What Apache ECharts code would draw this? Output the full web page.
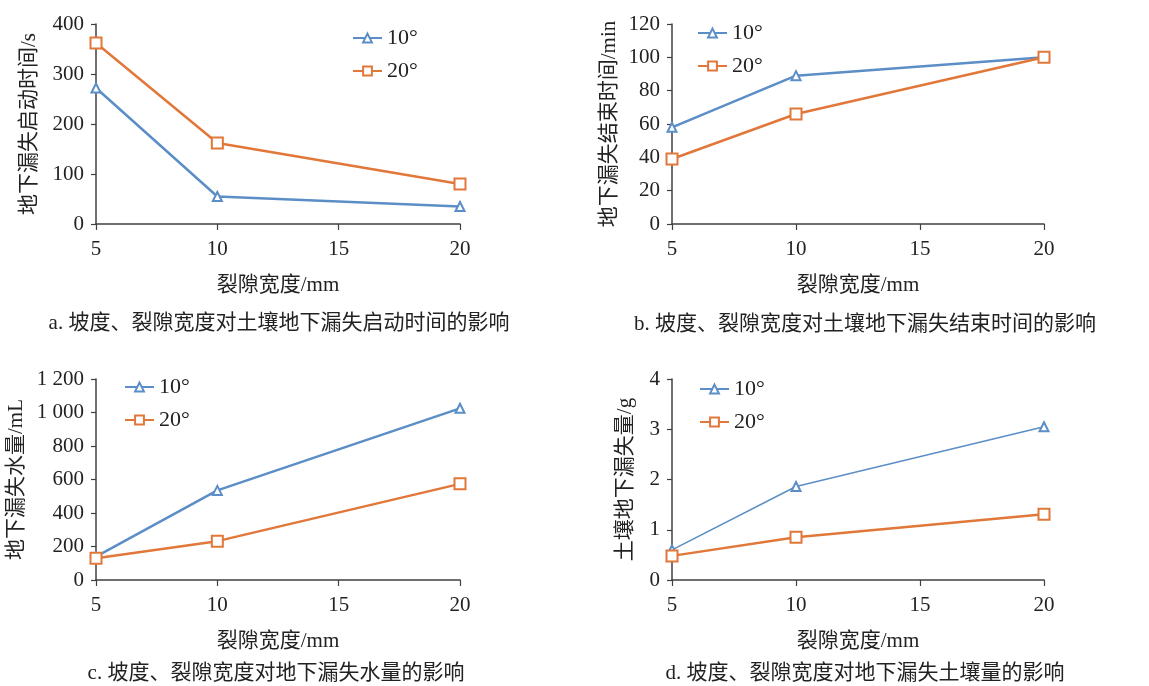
<!DOCTYPE html>
<html><head><meta charset="utf-8">
<script src="https://cdn.jsdelivr.net/npm/echarts@6/dist/echarts.min.js"></script>
<style>html,body{margin:0;padding:0;background:#fff}#c{width:1149px;height:686px}</style>
</head><body><div id="c"></div>
<script>
const widths = [5, 10, 20];
const xTicks = [5, 10, 15, 20];
// a: start time (s)
const startTime10 = [272, 55, 35];
const startTime20 = [362, 162, 80];
// b: end time (min)
const endTime10 = [58, 89, 100];
const endTime20 = [39, 66, 100];
// c: water loss (mL)
const water10 = [140, 535, 1025];
const water20 = [130, 232, 574];
// d: soil loss (g)
const soil10 = [0.6, 1.86, 3.05];
const soil20 = [0.48, 0.85, 1.31];

const legendNames = ['10°', '20°'];
const yNames = ['地下漏失启动时间/s', '地下漏失结束时间/min', '地下漏失水量/mL', '土壤地下漏失量/g'];
const xName = '裂隙宽度/mm';
const captions = [
  'a. 坡度、裂隙宽度对土壤地下漏失启动时间的影响',
  'b. 坡度、裂隙宽度对土壤地下漏失结束时间的影响',
  'c. 坡度、裂隙宽度对地下漏失水量的影响',
  'd. 坡度、裂隙宽度对地下漏失土壤量的影响'
];

const BLUE = '#5b8ec6', ORANGE = '#e2773a', AX = '#404040', TXT = '#222';
const FONT = '"Liberation Serif", "Noto Sans CJK SC", serif';

const grids = [
  {left: 96, top: 24, width: 364, height: 200},
  {left: 672, top: 24, width: 372, height: 200},
  {left: 96, top: 379, width: 364, height: 201},
  {left: 672, top: 379, width: 372, height: 201}
];
const yCfg = [
  {max: 400, interval: 100, gap: 56},
  {max: 120, interval: 20, gap: 52},
  {max: 1200, interval: 200, gap: 69},
  {max: 4, interval: 1, gap: 36}
];
const legendPos = [
  {left: 352, top: 27},
  {left: 697, top: 22},
  {left: 124, top: 376},
  {left: 699, top: 378}
];
const data10 = [startTime10, endTime10, water10, soil10];
const data20 = [startTime20, endTime20, water20, soil20];
const lw10 = [2.5, 2.5, 2.5, 1.5];
const capPos = [[279, 323], [865, 324], [276, 673], [865, 673]];

function pairs(arr) { return widths.map((w, i) => [w, arr[i]]); }
function fmtThousands(v) { return v >= 1000 ? String(v).replace(/(\d)(\d{3})$/, '$1 $2') : String(v); }

const option = {
  animation: false,
  backgroundColor: '#fff',
  grid: grids,
  xAxis: grids.map((g, i) => ({
    type: 'value', gridIndex: i, min: 5, max: 20, interval: 5,
    name: xName, nameLocation: 'middle', nameGap: 51,
    nameTextStyle: {fontFamily: FONT, fontSize: 21, color: TXT},
    axisLine: {show: true, lineStyle: {color: AX, width: 1.5}},
    axisTick: {show: true, length: 6, lineStyle: {color: AX, width: 1.2}},
    axisLabel: {fontFamily: FONT, fontSize: 21, color: TXT, margin: 15,
      formatter: v => xTicks.includes(v) ? String(v) : ''},
    splitLine: {show: false}
  })),
  yAxis: grids.map((g, i) => ({
    type: 'value', gridIndex: i, min: 0, max: yCfg[i].max, interval: yCfg[i].interval,
    name: yNames[i], nameLocation: 'middle', nameGap: yCfg[i].gap, nameRotate: 90,
    nameTextStyle: {fontFamily: FONT, fontSize: 21, color: TXT},
    axisLine: {show: true, lineStyle: {color: AX, width: 1.5}},
    axisTick: {show: true, length: 5, lineStyle: {color: AX, width: 1.2}},
    axisLabel: {fontFamily: FONT, fontSize: 21, color: TXT, margin: 12, formatter: fmtThousands},
    splitLine: {show: false}
  })),
  legend: legendPos.map((p, i) => ({
    left: p.left, top: p.top, orient: 'vertical', itemGap: 11, padding: 0,
    itemWidth: 29, itemHeight: 11,
    data: [i + ':' + legendNames[0], i + ':' + legendNames[1]],
    formatter: n => n.split(':')[1],
    textStyle: {fontFamily: FONT, fontSize: 22, color: TXT},
    selectedMode: false
  })),
  series: [],
  graphic: captions.map((t, i) => ({
    type: 'text', x: capPos[i][0], y: capPos[i][1],
    style: {text: t, fontFamily: FONT, fontSize: 21, fill: TXT, align: 'center', verticalAlign: 'middle'}
  }))
};

for (let i = 0; i < 4; i++) {
  option.series.push({
    name: i + ':' + legendNames[0], type: 'line', xAxisIndex: i, yAxisIndex: i,
    data: pairs(data10[i]), symbol: 'emptyTriangle', symbolSize: 9,
    lineStyle: {color: BLUE, width: lw10[i]},
    itemStyle: {color: BLUE, borderWidth: 1.8}
  });
  option.series.push({
    name: i + ':' + legendNames[1], type: 'line', xAxisIndex: i, yAxisIndex: i,
    data: pairs(data20[i]), symbol: 'emptyRect', symbolSize: 11,
    lineStyle: {color: ORANGE, width: 2.5},
    itemStyle: {color: ORANGE, borderWidth: 1.8}
  });
}

const chart = echarts.init(document.getElementById('c'), null, {renderer: 'canvas'});
chart.setOption(option);
</script>
</body></html>
